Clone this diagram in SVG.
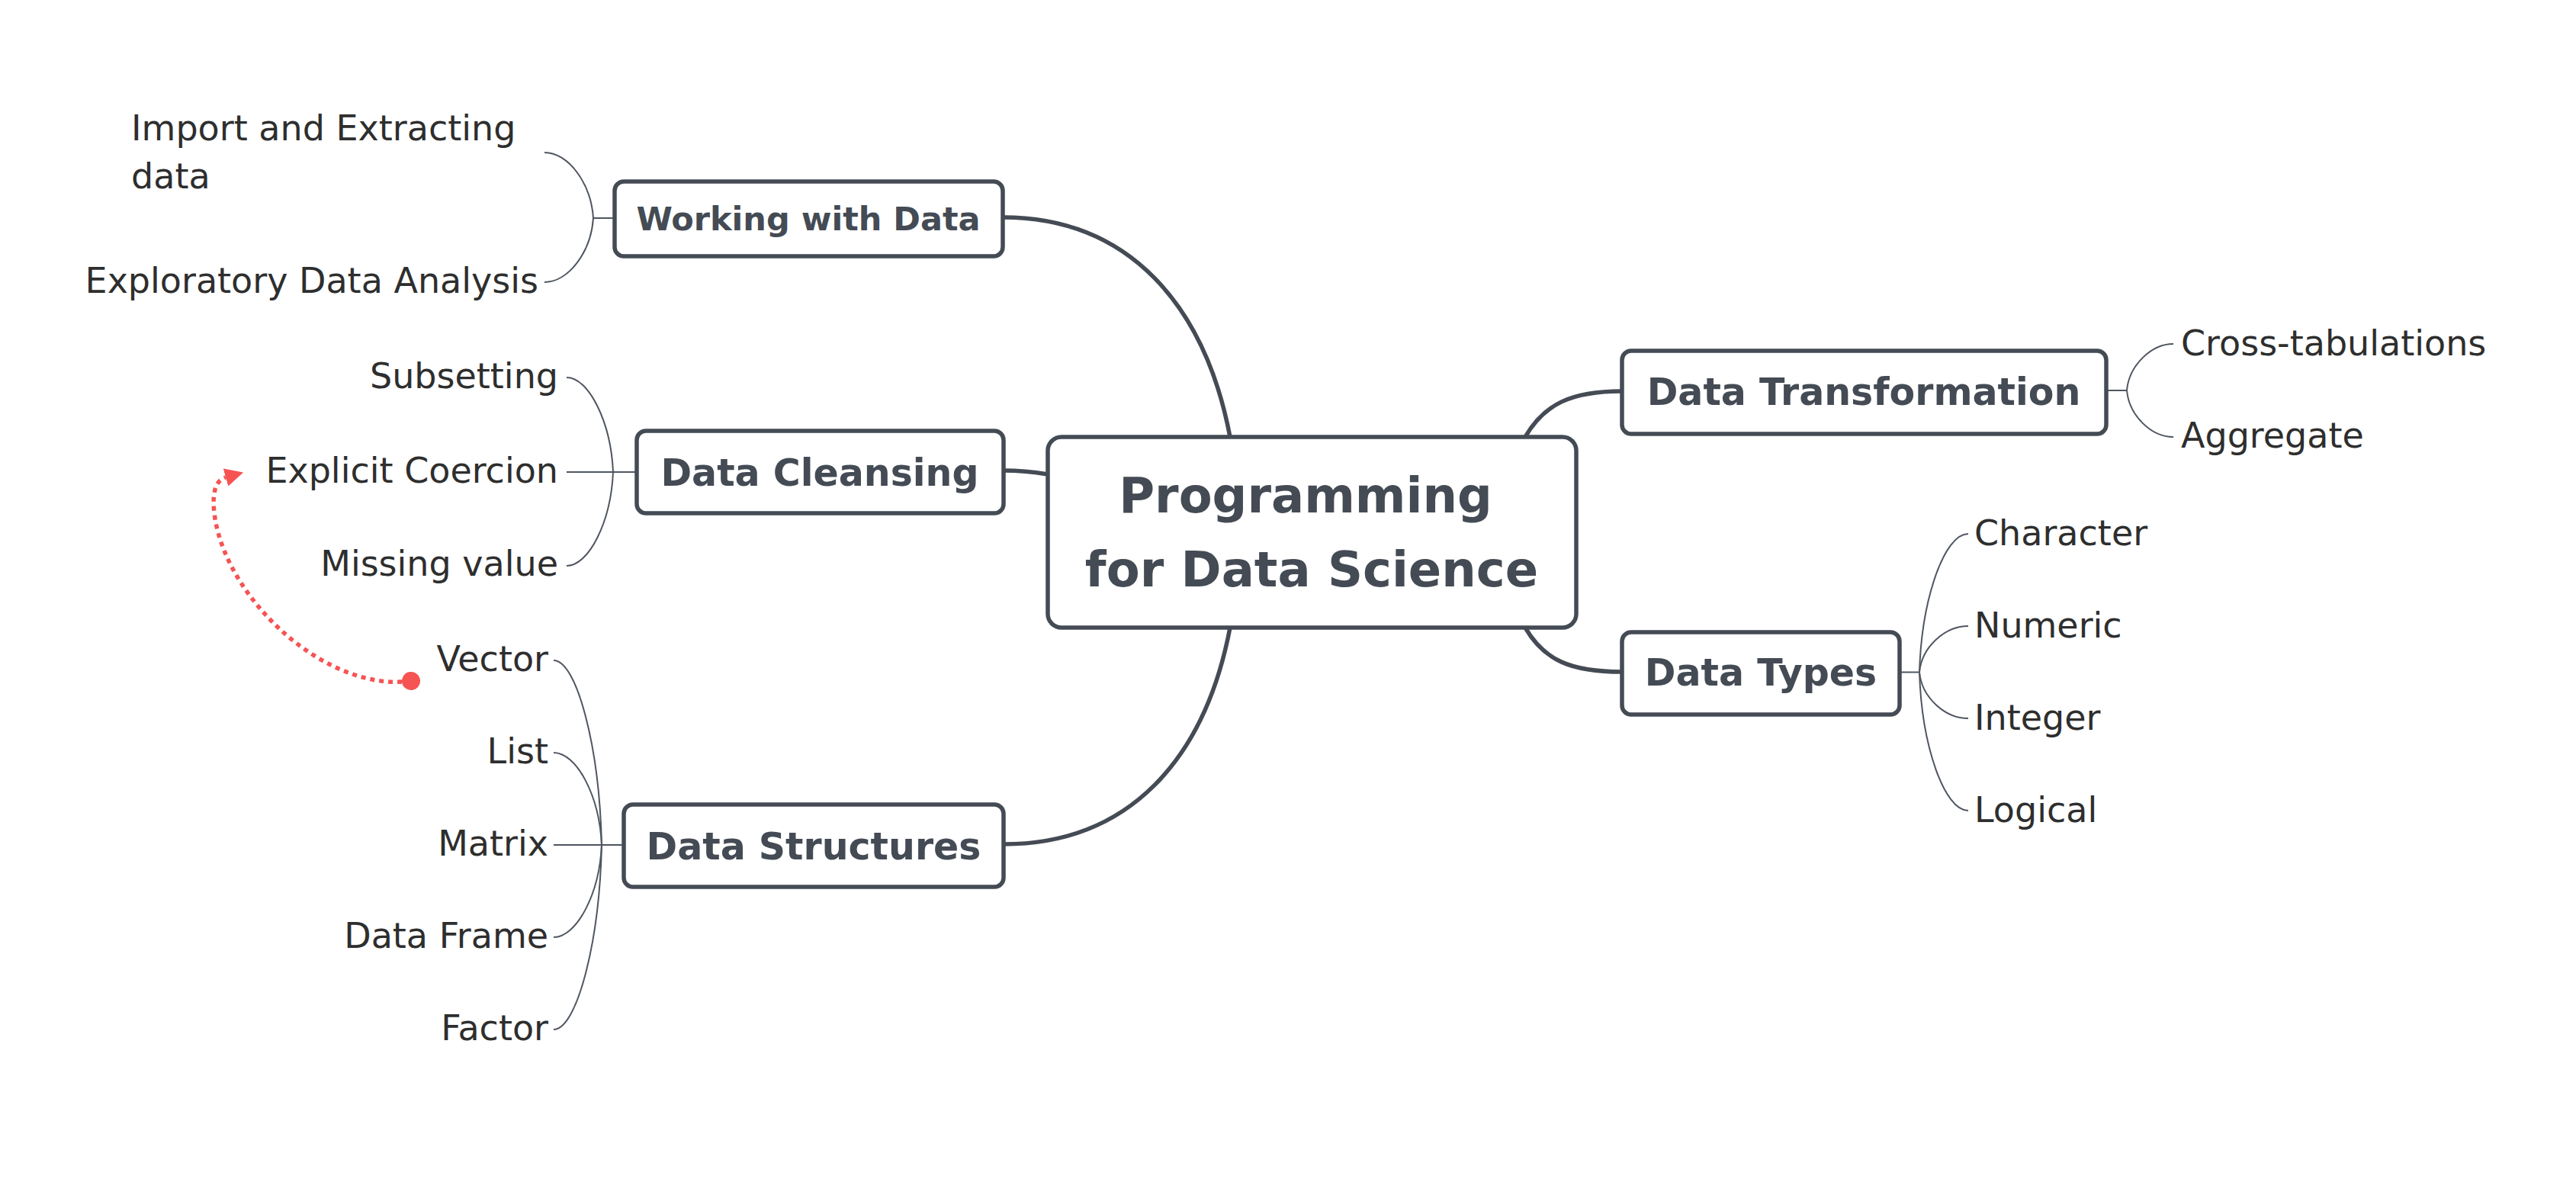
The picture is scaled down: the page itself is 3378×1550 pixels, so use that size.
<svg xmlns="http://www.w3.org/2000/svg" width="3378" height="1550" viewBox="0 0 3378 1550">
<defs>
<style>
.node rect{fill:#ffffff;stroke:#444b54;stroke-width:5.5}
.ntext{font-family:"DejaVu Sans","Liberation Sans",sans-serif;font-weight:bold;fill:#444b54;text-anchor:middle}
.leaf{font-family:"DejaVu Sans","Liberation Sans",sans-serif;font-size:46px;fill:#2e2e2e}
.left{text-anchor:end}
.main{fill:none;stroke:#444b54;stroke-width:5.5;stroke-linecap:round}
.br{fill:none;stroke:#4f5660;stroke-width:2}
.rel{fill:none;stroke:#f65353;stroke-width:5.5;stroke-dasharray:6 6}
</style>
<marker id="arrowRed" viewBox="0 0 24 24" refX="0" refY="12" markerWidth="24" markerHeight="24" markerUnits="userSpaceOnUse" orient="auto">
<path d="M0,0 L24,12 L0,24 Z" fill="#f65353"/>
</marker>
<marker id="dotRed" viewBox="0 0 24 24" refX="12" refY="12" markerWidth="24" markerHeight="24" markerUnits="userSpaceOnUse" orient="auto">
<circle cx="12" cy="12" r="12" fill="#f65353"/>
</marker>
</defs>
<rect x="0" y="0" width="3378" height="1550" fill="#ffffff"/>

<g id="connectors">
<path class="main" d="M1613,573 C1580,400 1480,285 1315,285"/>
<path class="main" d="M1374,622 C1350,618 1335,617 1316,617"/>
<path class="main" d="M1613,823 C1580,996 1480,1107 1316,1107"/>
<path class="main" d="M2000,573 C2025,530 2060,513 2127,513"/>
<path class="main" d="M2000,823 C2025,866 2060,881 2127,881"/>

<path class="br" d="M806,286 H778"/>
<path class="br" d="M778,286 C775,240 745,200 714,200"/>
<path class="br" d="M778,286 C775,331 745,370 714,370"/>

<path class="br" d="M835,619 H743"/>
<path class="br" d="M804,619 C801,553 772,495 743,495"/>
<path class="br" d="M804,619 C801,685 772,742 743,742"/>

<path class="br" d="M818,1108 H726"/>
<path class="br" d="M789,1108 C786,978 756,866 726,866"/>
<path class="br" d="M789,1108 C786,1043 756,987 726,987"/>
<path class="br" d="M789,1108 C786,1173 756,1229 726,1229"/>
<path class="br" d="M789,1108 C786,1238 756,1350 726,1350"/>

<path class="br" d="M2762,512 H2789"/>
<path class="br" d="M2789,512 C2792,479 2821,451 2850,451"/>
<path class="br" d="M2789,512 C2792,545 2821,573 2850,573"/>

<path class="br" d="M2491,881.5 H2517"/>
<path class="br" d="M2517,881.5 C2520,784 2550,700 2581,700"/>
<path class="br" d="M2517,881.5 C2520,849 2550,821 2581,821"/>
<path class="br" d="M2517,881.5 C2520,914 2550,942 2581,942"/>
<path class="br" d="M2517,881.5 C2520,979 2550,1063 2581,1063"/>

<path class="rel" d="M539,893 C430,908 300,790 282,680 C277,648 282,630 296,626" marker-start="url(#dotRed)" marker-end="url(#arrowRed)"/>
</g>

<g id="central" class="node">
<rect x="1374" y="573" width="693" height="250" rx="18"/>
<text class="ntext" x="1712" y="672" font-size="64">Programming</text>
<text class="ntext" x="1720" y="769" font-size="64">for Data Science</text>
</g>

<g id="working" class="node">
<rect x="806" y="238" width="509" height="98" rx="12"/>
<text class="ntext" x="1060" y="302" font-size="43">Working with Data</text>
</g>

<g id="cleansing" class="node">
<rect x="835" y="565" width="481" height="108" rx="12"/>
<text class="ntext" x="1075" y="637" font-size="49">Data Cleansing</text>
</g>

<g id="structures" class="node">
<rect x="818" y="1055" width="498" height="108" rx="12"/>
<text class="ntext" x="1067" y="1127" font-size="49">Data Structures</text>
</g>

<g id="transformation" class="node">
<rect x="2127" y="460" width="635" height="109" rx="12"/>
<text class="ntext" x="2444" y="531" font-size="49">Data Transformation</text>
</g>

<g id="types" class="node">
<rect x="2127" y="829" width="364" height="108" rx="12"/>
<text class="ntext" x="2309" y="899" font-size="49">Data Types</text>
</g>

<g id="leaf-import"><text class="leaf" x="172" y="184">Import and Extracting</text><text class="leaf" x="172" y="247">data</text></g>
<g id="leaf-eda"><text class="leaf left" x="706" y="384">Exploratory Data Analysis</text></g>

<g id="leaf-subsetting"><text class="leaf left" x="732" y="509">Subsetting</text></g>
<g id="leaf-coercion"><text class="leaf left" x="732" y="633">Explicit Coercion</text></g>
<g id="leaf-missing"><text class="leaf left" x="732" y="755">Missing value</text></g>

<g id="leaf-vector"><text class="leaf left" x="719" y="880">Vector</text></g>
<g id="leaf-list"><text class="leaf left" x="719" y="1001">List</text></g>
<g id="leaf-matrix"><text class="leaf left" x="719" y="1122">Matrix</text></g>
<g id="leaf-frame"><text class="leaf left" x="719" y="1243">Data Frame</text></g>
<g id="leaf-factor"><text class="leaf left" x="719" y="1364">Factor</text></g>

<g id="leaf-cross"><text class="leaf" x="2860" y="466">Cross-tabulations</text></g>
<g id="leaf-aggregate"><text class="leaf" x="2860" y="587">Aggregate</text></g>

<g id="leaf-character"><text class="leaf" x="2589" y="715">Character</text></g>
<g id="leaf-numeric"><text class="leaf" x="2589" y="836">Numeric</text></g>
<g id="leaf-integer"><text class="leaf" x="2589" y="957">Integer</text></g>
<g id="leaf-logical"><text class="leaf" x="2589" y="1078">Logical</text></g>
</svg>
